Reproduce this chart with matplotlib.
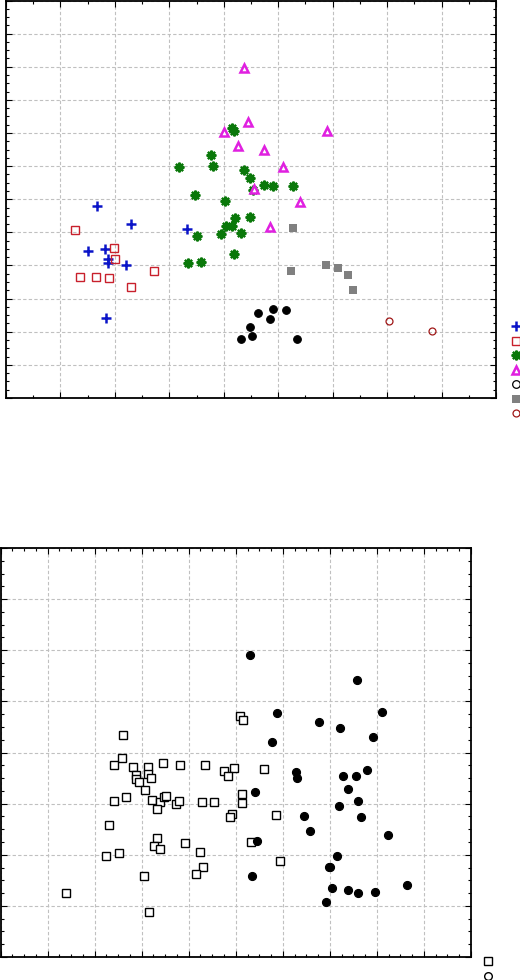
import matplotlib
matplotlib.use("Agg")
import matplotlib.pyplot as plt
from matplotlib.lines import Line2D
from matplotlib.ticker import MultipleLocator

# ---------------- top panel data (root 1 vs root 2, grid units) ----------------
g1_x = [1.67, 2.30, 1.51, 1.82, 1.88, 1.87, 2.20, 1.84, 3.32]
g1_y = [5.80, 5.24, 4.44, 4.50, 4.21, 4.08, 4.02, 2.40, 5.09]

g2_x = [1.27, 1.99, 2.00, 1.35, 1.66, 1.90, 2.30, 2.72]
g2_y = [5.06, 4.53, 4.20, 3.64, 3.64, 3.61, 3.36, 3.84]

g3_x = [4.16, 4.18, 3.77, 3.81, 3.18, 4.38, 4.49, 4.74, 4.90, 5.28, 4.54, 3.48,
        4.03, 4.20, 4.48, 4.04, 4.16, 4.31, 3.51, 3.94, 4.19, 3.35, 3.59]
g3_y = [8.15, 8.05, 7.33, 7.00, 6.96, 6.89, 6.63, 6.43, 6.39, 6.39, 6.27, 6.12,
        5.94, 5.43, 5.46, 5.19, 5.19, 4.97, 4.88, 4.94, 4.34, 4.09, 4.11]

g4_x = [4.37, 4.44, 4.00, 4.26, 4.74, 5.08, 5.90, 4.56, 4.84, 5.40]
g4_y = [9.97, 8.33, 8.02, 7.62, 7.49, 6.97, 8.07, 6.30, 5.15, 5.92]

g5_x = [4.62, 4.49, 4.51, 4.31, 4.90, 4.85, 5.15, 5.35]
g5_y = [2.57, 2.14, 1.87, 1.78, 2.70, 2.37, 2.66, 1.77]

g6_x = [5.28, 5.23, 5.88, 6.10, 6.29, 6.38]
g6_y = [5.13, 3.82, 4.00, 3.92, 3.72, 3.25]

g7_x = [7.03, 7.83]
g7_y = [2.31, 2.01]

# ---------------- bottom panel data ----------------
sq_x = [2.60, 5.08, 5.16, 2.58, 2.42, 2.81, 3.14, 3.45, 3.82, 4.34, 4.74, 4.97,
        4.83, 2.87, 2.89, 2.94, 3.13, 3.19, 3.07, 2.42, 2.66, 3.21, 3.40, 3.47,
        3.52, 3.32, 3.74, 3.80, 4.29, 4.54, 5.13, 5.13, 4.93, 4.87, 2.31, 3.33,
        3.27, 3.40, 3.92, 4.25, 5.32, 2.25, 2.52, 4.31, 4.16, 3.04, 1.39, 3.16,
        5.60, 5.85, 5.93]
sq_y = [4.35, 4.72, 4.64, 3.90, 3.75, 3.71, 3.72, 3.80, 3.76, 3.75, 3.63, 3.70,
        3.54, 3.56, 3.48, 3.42, 3.58, 3.50, 3.26, 3.05, 3.12, 3.07, 3.03, 3.12,
        3.14, 2.90, 3.00, 3.06, 3.04, 3.04, 3.18, 3.02, 2.80, 2.74, 2.59, 2.33,
        2.18, 2.12, 2.23, 2.05, 2.24, 1.97, 2.04, 1.76, 1.63, 1.59, 1.26, 0.88,
        3.68, 2.77, 1.88]

ci_x = [5.30, 7.57, 5.88, 8.10, 6.78, 7.22, 7.91, 5.76, 6.27, 6.30, 7.28, 7.55,
        7.79, 7.39, 7.59, 7.19, 5.40, 6.45, 7.67, 6.58, 8.24, 5.45, 7.16, 7.01,
        6.98, 5.35, 7.05, 7.39, 7.60, 7.96, 8.65, 6.91]
ci_y = [5.90, 5.41, 4.78, 4.79, 4.59, 4.48, 4.31, 4.21, 3.61, 3.50, 3.55, 3.55,
        3.65, 3.29, 3.05, 2.96, 3.23, 2.75, 2.74, 2.47, 2.39, 2.27, 1.97, 1.77,
        1.77, 1.58, 1.35, 1.31, 1.25, 1.27, 1.41, 1.08]

# ---------------- styles ----------------
BLUE = "#0a14c8"
RED = "#c8202c"
GREEN = "#0a780a"
MAGENTA = "#e020e0"
GRAY = "#808080"
DARKRED = "#a01818"

fig = plt.figure(figsize=(5.2, 9.8), dpi=100)
ax1 = fig.add_axes([6 / 520, 1 - 398 / 980, 490 / 520, 397.5 / 980])
ax2 = fig.add_axes([0.5 / 520, 1 - 957 / 980, 470.5 / 520, 409 / 980])


def style(ax, xmaj, xmin, ymaj, ymin, xlim, ylim):
    ax.set_xlim(*xlim)
    ax.set_ylim(*ylim)
    ax.xaxis.set_major_locator(MultipleLocator(xmaj))
    ax.xaxis.set_minor_locator(MultipleLocator(xmin))
    ax.yaxis.set_major_locator(MultipleLocator(ymaj))
    ax.yaxis.set_minor_locator(MultipleLocator(ymin))
    ax.grid(True, which="major", color="#c0c0c0", linestyle=(0, (3, 2)), linewidth=0.8)
    ax.set_axisbelow(True)
    ax.tick_params(which="both", direction="in", top=True, right=True,
                   labelleft=False, labelbottom=False, labeltop=False, labelright=False,
                   color="black", width=0.8)
    ax.tick_params(which="major", length=4)
    ax.tick_params(which="minor", length=2.5)
    for s in ax.spines.values():
        s.set_linewidth(1.3)
        s.set_color("black")


style(ax1, 1, 0.5, 1, 0.25, (0, 9), (0, 12))
style(ax2, 1, 0.25, 1, 0.25, (0, 10), (0, 8))

# marker styles
st_g1 = dict(marker="+", ms=6.5, mew=1.8, color=BLUE)
st_g2 = dict(marker="s", ms=5.5, mew=1.0, mfc="none", mec=RED)
st_g3 = dict(marker=(8, 2, 0), ms=7, mew=1.6, color=GREEN)
st_g4 = dict(marker="^", ms=5.2, mew=1.8, mfc="white", mec=MAGENTA)
st_g5 = dict(marker="o", ms=5.5, mew=0.8, color="black")
st_g6 = dict(marker="s", ms=6, mew=0, color=GRAY)
st_g7 = dict(marker="o", ms=5, mew=0.9, mfc="none", mec=DARKRED)

kw = dict(ls="none")
ax1.plot(g1_x, g1_y, **st_g1, **kw)
ax1.plot(g2_x, g2_y, **st_g2, **kw)
ax1.plot(g3_x, g3_y, **st_g3, **kw)
ax1.plot(g3_x, g3_y, marker="o", ms=2.6, mew=0, color=GREEN, **kw)
ax1.plot(g4_x, g4_y, **st_g4, **kw)
ax1.plot(g5_x, g5_y, **st_g5, **kw)
ax1.plot(g6_x, g6_y, **st_g6, **kw)
ax1.plot(g7_x, g7_y, **st_g7, **kw)

# bottom panel marks
ax2.plot(sq_x, sq_y, marker="s", ms=6, mew=1.0, mfc="white", mec="black", **kw)
ax2.plot(ci_x, ci_y, marker="o", ms=5.8, mew=0.8, color="black", **kw)

# legends (labels are outside the visible canvas in the reference)
lh_top = [
    Line2D([], [], ls="none", **st_g1),
    Line2D([], [], ls="none", **st_g2),
    Line2D([], [], ls="none", **st_g3),
    Line2D([], [], ls="none", **st_g4),
    Line2D([], [], ls="none", marker="o", ms=5.5, mew=0.9, mfc="none", mec="black"),
    Line2D([], [], ls="none", **st_g6),
    Line2D([], [], ls="none", **st_g7),
]
fig.legend(lh_top, [" "] * 7, loc="upper left",
           bbox_to_anchor=(510.5 / 520, 1 - 322 / 980), bbox_transform=fig.transFigure,
           frameon=False, fontsize=8, handlelength=1.0, handletextpad=0.2,
           borderpad=0, borderaxespad=0, labelspacing=0.41)

lh_bot = [
    Line2D([], [], ls="none", marker="s", ms=6, mew=1.0, mfc="white", mec="black"),
    Line2D([], [], ls="none", marker="o", ms=5.5, mew=1.0, mfc="white", mec="black"),
]
fig.legend(lh_bot, [" "] * 2, loc="upper left",
           bbox_to_anchor=(482.5 / 520, 1 - 956.5 / 980), bbox_transform=fig.transFigure,
           frameon=False, fontsize=8, handlelength=1.0, handletextpad=0.2,
           borderpad=0, borderaxespad=0, labelspacing=0.5)

fig.savefig("out.png", dpi=100)
